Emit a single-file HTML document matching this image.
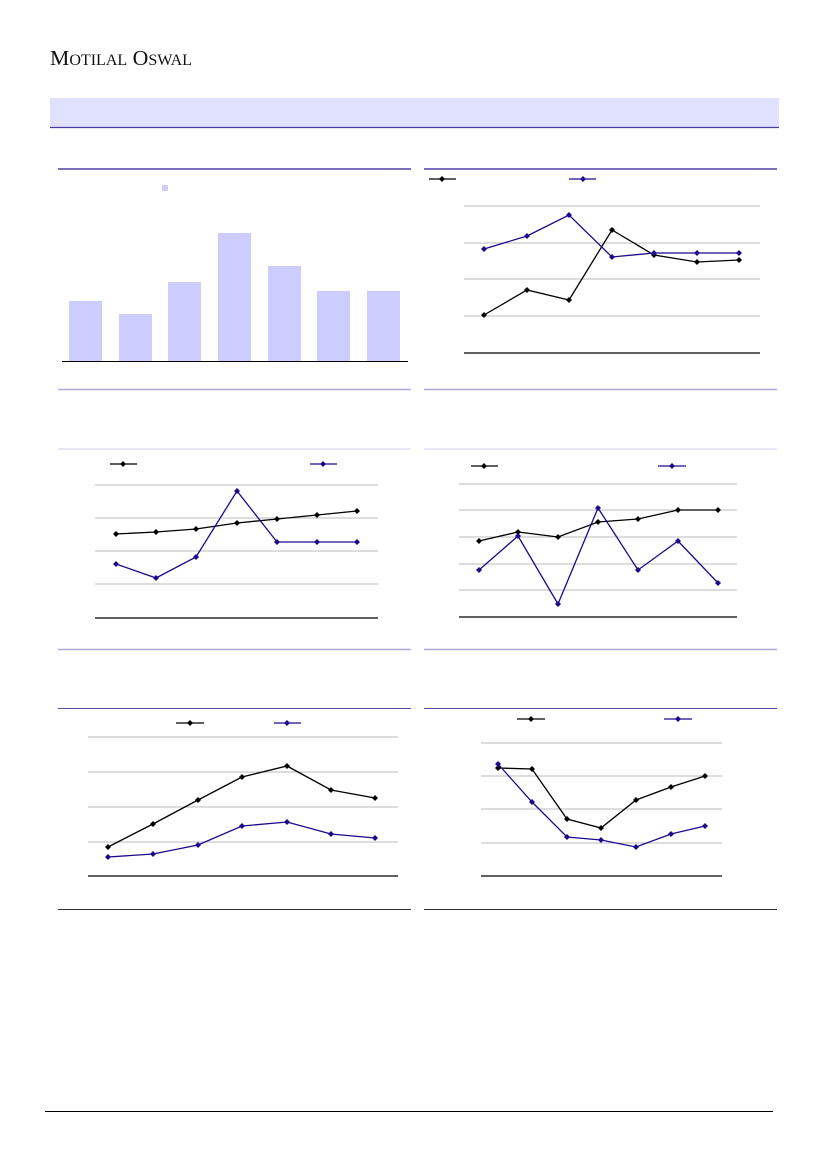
<!DOCTYPE html>
<html><head><meta charset="utf-8"><style>
html,body{margin:0;padding:0;background:#fff;width:827px;height:1169px;overflow:hidden}
svg{display:block}
</style></head><body>
<svg width="827" height="1169" viewBox="0 0 827 1169" xmlns="http://www.w3.org/2000/svg">
<defs>
<g id="dk"><path d="M0,-3 L3,0 L0,3 L-3,0Z" fill="#000"/></g>
<g id="db"><path d="M0,-3 L3,0 L0,3 L-3,0Z" fill="#1a0a8c"/></g>
</defs>
<text x="50" y="65" font-family="Liberation Serif, serif" font-size="21" fill="#111" textLength="142" lengthAdjust="spacingAndGlyphs">M<tspan font-size="15.5">OTILAL</tspan> O<tspan font-size="15.5">SWAL</tspan></text>
<rect x="50" y="98" width="729" height="29" fill="#e0e0ff"/>
<line x1="50" y1="127.5" x2="779" y2="127.5" stroke="#4a3aa0" stroke-width="1.2"/>
<g stroke="#2a1a98" stroke-width="1.2">
<line x1="58" y1="169" x2="411" y2="169"/><line x1="424" y1="169" x2="777" y2="169"/>
</g>
<g stroke="#b0a8d8" stroke-width="1.5">
<line x1="58" y1="389.5" x2="411" y2="389.5"/><line x1="424" y1="389.5" x2="777" y2="389.5"/>
<line x1="58" y1="649.5" x2="411" y2="649.5"/><line x1="424" y1="649.5" x2="777" y2="649.5"/>
</g>
<g stroke="#dcdcf0" stroke-width="1.2"><line x1="58" y1="449" x2="411" y2="449"/><line x1="424" y1="449" x2="777" y2="449"/></g>
<g stroke="#5a4aa8" stroke-width="1"><line x1="58" y1="708.5" x2="411" y2="708.5"/><line x1="424" y1="708.5" x2="777" y2="708.5"/></g>
<g stroke="#333" stroke-width="1"><line x1="58" y1="909.5" x2="411" y2="909.5"/><line x1="424" y1="909.5" x2="777" y2="909.5"/></g>
<line x1="45" y1="1111.5" x2="773" y2="1111.5" stroke="#000" stroke-width="1"/>

<g fill="#ccccff">
<rect x="162" y="185" width="6" height="6"/>
<rect x="69" y="301" width="33" height="60"/><rect x="119" y="314" width="33" height="47"/>
<rect x="168" y="282" width="33" height="79"/><rect x="218" y="233" width="33" height="128"/>
<rect x="268" y="266" width="33" height="95"/><rect x="317" y="291" width="33" height="70"/>
<rect x="367" y="291" width="33" height="70"/>
</g>
<line x1="62" y1="361.5" x2="408" y2="361.5" stroke="#000" stroke-width="1"/>

<g fill="none" stroke-width="1.3">
<g stroke="#bbb" stroke-width="1"><line x1="464" y1="206" x2="760" y2="206"/><line x1="464" y1="243" x2="760" y2="243"/><line x1="464" y1="279" x2="760" y2="279"/><line x1="464" y1="316" x2="760" y2="316"/></g>
<line x1="464" y1="353" x2="760" y2="353" stroke="#000"/>
<line x1="429" y1="179" x2="456" y2="179" stroke="#000"/><line x1="569" y1="179" x2="596" y2="179" stroke="#1a0a8c"/>
<polyline stroke="#000" points="484,315 527,290 569,300 612,230 654,255 697,262 739,260"/>
<polyline stroke="#1a0a8c" points="484,249 527,236 569,215 612,257 654,253 697,253 739,253"/>
<g stroke="#bbb" stroke-width="1"><line x1="95" y1="485" x2="378" y2="485"/><line x1="95" y1="518" x2="378" y2="518"/><line x1="95" y1="551" x2="378" y2="551"/><line x1="95" y1="584" x2="378" y2="584"/></g>
<line x1="95" y1="618" x2="378" y2="618" stroke="#000"/>
<line x1="110" y1="464" x2="137" y2="464" stroke="#000"/><line x1="310" y1="464" x2="337" y2="464" stroke="#1a0a8c"/>
<polyline stroke="#000" points="116,534 156,532 196,529 237,523 277,519 317,515 357,511"/>
<polyline stroke="#1a0a8c" points="116,564 156,578 196,557 237,491 277,542 317,542 357,542"/>
<g stroke="#bbb" stroke-width="1"><line x1="459" y1="484" x2="737" y2="484"/><line x1="459" y1="510" x2="737" y2="510"/><line x1="459" y1="537" x2="737" y2="537"/><line x1="459" y1="564" x2="737" y2="564"/><line x1="459" y1="590" x2="737" y2="590"/></g>
<line x1="459" y1="617" x2="737" y2="617" stroke="#000"/>
<line x1="471" y1="466" x2="498" y2="466" stroke="#000"/><line x1="658" y1="466" x2="686" y2="466" stroke="#1a0a8c"/>
<polyline stroke="#000" points="479,541 518,532 558,537 598,522 638,519 678,510 718,510"/>
<polyline stroke="#1a0a8c" points="479,570 518,536 558,604 598,508 638,570 678,541 718,583"/>
<g stroke="#bbb" stroke-width="1"><line x1="88" y1="737" x2="398" y2="737"/><line x1="88" y1="772" x2="398" y2="772"/><line x1="88" y1="807" x2="398" y2="807"/><line x1="88" y1="842" x2="398" y2="842"/></g>
<line x1="88" y1="876" x2="398" y2="876" stroke="#000"/>
<line x1="176" y1="723" x2="204" y2="723" stroke="#000"/><line x1="274" y1="723" x2="301" y2="723" stroke="#1a0a8c"/>
<polyline stroke="#000" points="108,847 153,824 198,800 242,777 287,766 331,790 375,798"/>
<polyline stroke="#1a0a8c" points="108,857 153,854 198,845 242,826 287,822 331,834 375,838"/>
<g stroke="#bbb" stroke-width="1"><line x1="481" y1="743" x2="722" y2="743"/><line x1="481" y1="776" x2="722" y2="776"/><line x1="481" y1="809" x2="722" y2="809"/><line x1="481" y1="843" x2="722" y2="843"/></g>
<line x1="481" y1="876" x2="722" y2="876" stroke="#000"/>
<line x1="517" y1="719" x2="545" y2="719" stroke="#000"/><line x1="664" y1="719" x2="692" y2="719" stroke="#1a0a8c"/>
<polyline stroke="#000" points="498,768 532,769 567,819 601,828 636,800 671,787 705,776"/>
<polyline stroke="#1a0a8c" points="498,764 532,802 567,837 601,840 636,847 671,834 705,826"/>
</g>
<g>
<use href="#dk" x="442" y="179"/><use href="#db" x="583" y="179"/>
<use href="#dk" x="484" y="315"/><use href="#dk" x="527" y="290"/><use href="#dk" x="569" y="300"/><use href="#dk" x="612" y="230"/><use href="#dk" x="654" y="255"/><use href="#dk" x="697" y="262"/><use href="#dk" x="739" y="260"/>
<use href="#db" x="484" y="249"/><use href="#db" x="527" y="236"/><use href="#db" x="569" y="215"/><use href="#db" x="612" y="257"/><use href="#db" x="654" y="253"/><use href="#db" x="697" y="253"/><use href="#db" x="739" y="253"/>
<use href="#dk" x="123" y="464"/><use href="#db" x="323" y="464"/>
<use href="#dk" x="116" y="534"/><use href="#dk" x="156" y="532"/><use href="#dk" x="196" y="529"/><use href="#dk" x="237" y="523"/><use href="#dk" x="277" y="519"/><use href="#dk" x="317" y="515"/><use href="#dk" x="357" y="511"/>
<use href="#db" x="116" y="564"/><use href="#db" x="156" y="578"/><use href="#db" x="196" y="557"/><use href="#db" x="237" y="491"/><use href="#db" x="277" y="542"/><use href="#db" x="317" y="542"/><use href="#db" x="357" y="542"/>
<use href="#dk" x="484" y="466"/><use href="#db" x="672" y="466"/>
<use href="#dk" x="479" y="541"/><use href="#dk" x="518" y="532"/><use href="#dk" x="558" y="537"/><use href="#dk" x="598" y="522"/><use href="#dk" x="638" y="519"/><use href="#dk" x="678" y="510"/><use href="#dk" x="718" y="510"/>
<use href="#db" x="479" y="570"/><use href="#db" x="518" y="536"/><use href="#db" x="558" y="604"/><use href="#db" x="598" y="508"/><use href="#db" x="638" y="570"/><use href="#db" x="678" y="541"/><use href="#db" x="718" y="583"/>
<use href="#dk" x="190" y="723"/><use href="#db" x="287" y="723"/>
<use href="#dk" x="108" y="847"/><use href="#dk" x="153" y="824"/><use href="#dk" x="198" y="800"/><use href="#dk" x="242" y="777"/><use href="#dk" x="287" y="766"/><use href="#dk" x="331" y="790"/><use href="#dk" x="375" y="798"/>
<use href="#db" x="108" y="857"/><use href="#db" x="153" y="854"/><use href="#db" x="198" y="845"/><use href="#db" x="242" y="826"/><use href="#db" x="287" y="822"/><use href="#db" x="331" y="834"/><use href="#db" x="375" y="838"/>
<use href="#dk" x="531" y="719"/><use href="#db" x="678" y="719"/>
<use href="#dk" x="498" y="768"/><use href="#dk" x="532" y="769"/><use href="#dk" x="567" y="819"/><use href="#dk" x="601" y="828"/><use href="#dk" x="636" y="800"/><use href="#dk" x="671" y="787"/><use href="#dk" x="705" y="776"/>
<use href="#db" x="498" y="764"/><use href="#db" x="532" y="802"/><use href="#db" x="567" y="837"/><use href="#db" x="601" y="840"/><use href="#db" x="636" y="847"/><use href="#db" x="671" y="834"/><use href="#db" x="705" y="826"/>
</g>
</svg>
</body></html>
